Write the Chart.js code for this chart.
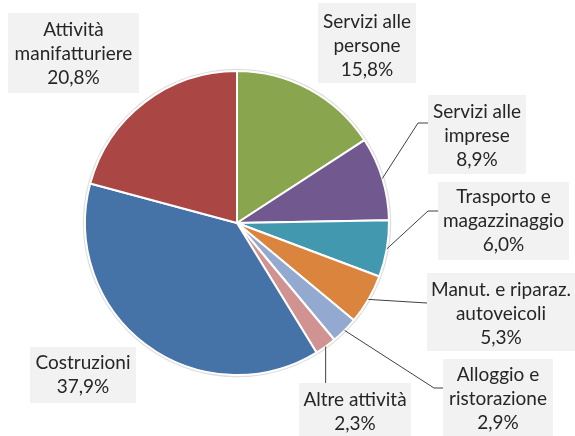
<!DOCTYPE html>
<html>
<head>
<meta charset="utf-8">
<script src="https://cdn.jsdelivr.net/npm/chart.js@4/dist/chart.umd.min.js"></script>
<style>
  html, body { margin: 0; padding: 0; background: #ffffff; }
  #wrap { width: 575px; height: 436px; position: relative; }
</style>
</head>
<body>
<div id="wrap"><canvas id="c" width="575" height="436"></canvas></div>
<script>
// ---- Data ----
const categories = [
  ["Servizi alle", "persone"],
  ["Servizi alle", "imprese"],
  ["Trasporto e", "magazzinaggio"],
  ["Manut. e riparaz.", "autoveicoli"],
  ["Alloggio e", "ristorazione"],
  ["Altre attività"],
  ["Costruzioni"],
  ["Attività", "manifatturiere"]
];
const shares = [15.8, 8.9, 6.0, 5.3, 2.9, 2.3, 37.9, 20.8];
const sliceColors = ["#89A54E", "#71588F", "#4198AF", "#DB843D", "#93A9CF", "#D19392", "#4572A7", "#AA4643"];

// ---- Label layout (boxes & leader routes, page pixels) ----
const boxes = [
  { x: 318, y: 3,   w: 98,  h: 80, cy: 22,  leader: null },
  { x: 428, y: 95,  w: 98,  h: 79, cy: 112, leader: [[418, 123], [428, 123]] },
  { x: 438, y: 182, w: 131, h: 78, cy: 197, leader: [[428, 211], [438, 211]] },
  { x: 427, y: 273, w: 148, h: 78, cy: 290, leader: [[427, 303]] },
  { x: 443, y: 359, w: 110, h: 77, cy: 375, leader: [[434, 388], [443, 388]] },
  { x: 299, y: 383, w: 112, h: 53, cy: 400, leader: 'vertical' },
  { x: 30,  y: 347, w: 106, h: 56, cy: 363, leader: null },
  { x: 8,   y: 13,  w: 131, h: 80, cy: 30,  leader: null }
];

function fmt(v) { return v.toFixed(1).replace('.', ',') + '%'; }

const labelPlugin = {
  id: 'boxLabels',
  beforeDatasetsDraw(chart) {
    const arc = chart.getDatasetMeta(0).data[0];
    const ctx = chart.ctx;
    ctx.save();
    ctx.beginPath();
    ctx.arc(arc.x, arc.y, arc.outerRadius + 1, 0, Math.PI * 2);
    ctx.strokeStyle = 'rgba(0,0,0,0.13)';
    ctx.lineWidth = 2.5;
    ctx.stroke();
    ctx.restore();
  },
  afterDraw(chart) {
    const ctx = chart.ctx;
    const meta = chart.getDatasetMeta(0);
    ctx.save();
    meta.data.forEach((el, i) => {
      const b = boxes[i];
      const mid = (el.startAngle + el.endAngle) / 2;
      const px = el.x + Math.cos(mid) * el.outerRadius;
      const py = el.y + Math.sin(mid) * el.outerRadius;
      if (b.leader) {
        ctx.beginPath();
        ctx.strokeStyle = '#404040';
        ctx.lineWidth = 1;
        ctx.moveTo(px, py);
        if (b.leader === 'vertical') {
          ctx.lineTo(px, b.y);
        } else {
          b.leader.forEach(p => ctx.lineTo(p[0], p[1]));
        }
        ctx.stroke();
      }
      ctx.fillStyle = '#F2F2F2';
      ctx.fillRect(b.x, b.y, b.w, b.h);
      const lines = categories[i].concat([fmt(shares[i])]);
      ctx.fillStyle = '#262626';
      ctx.font = '19px Lato';
      ctx.textAlign = 'center';
      ctx.textBaseline = 'middle';
      lines.forEach((t, k) => {
        ctx.fillText(t, b.x + b.w / 2, b.cy + k * 24);
      });
    });
    ctx.restore();
  }
};

new Chart(document.getElementById('c'), {
  type: 'pie',
  data: {
    labels: categories.map(c => c.join(' ')),
    datasets: [{
      data: shares,
      backgroundColor: sliceColors,
      borderColor: '#FFFFFF',
      borderWidth: 2
    }]
  },
  options: {
    responsive: false,
    animation: false,
    layout: { padding: { top: 70, bottom: 60, left: 84, right: 185 } },
    plugins: {
      legend: { display: false },
      tooltip: { enabled: false }
    }
  },
  plugins: [labelPlugin]
});
</script>
</body>
</html>
